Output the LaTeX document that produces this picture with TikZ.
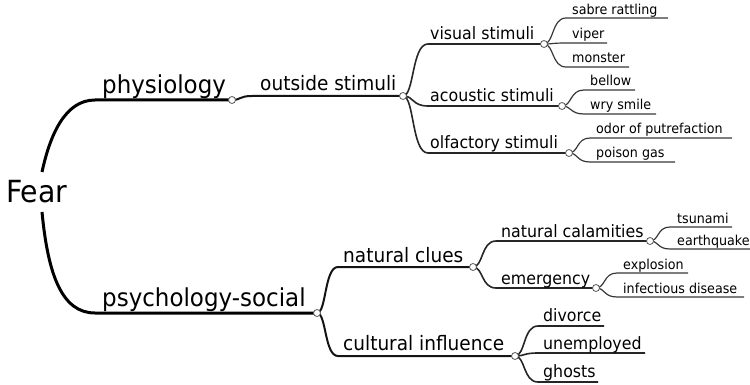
\documentclass[tikz,border=0pt]{standalone}
\usepackage{fontspec}
\setmainfont{DejaVu Sans}[FakeStretch=0.93]
\usetikzlibrary{calc}
\newcommand\mmbranch[4]{\draw[#1] (#2) .. controls ($(#2)!0.45!(#2-|#3)$) and ($(#3-|#2)!0.35!(#3)$) .. (#3) -- (#4);}
\tikzset{
  lone/.style={line width=3pt,black},
  ltwo/.style={line width=2pt,black!92},
  lthree/.style={line width=1.6pt,black!85},
  lfour/.style={line width=1.2pt,black!78},
  knob/.style={circle,draw=black!65,fill=white,line width=0.8pt,inner sep=0pt,minimum size=7pt},
  txt/.style={anchor=base west,inner sep=0pt,text=black},
  tzero/.style={txt,font=\fontsize{30.5}{32}\selectfont},
  tone/.style={txt,font=\fontsize{24.7}{26}\selectfont},
  ttwo/.style={txt,font=\fontsize{19.9}{21}\selectfont},
  tthree/.style={txt,font=\fontsize{17}{18}\selectfont},
  tfour/.style={txt,font=\fontsize{13.65}{15}\selectfont},
}
\begin{document}
\begin{tikzpicture}[x=1pt,y=-1pt]
\useasboundingbox (0,0) rectangle (750,385);
% coordinates
\coordinate (fa) at (42,172);
\coordinate (fb) at (42,212);
\coordinate (aphys) at (95,100);   \coordinate (cphys) at (232,100);
\coordinate (apsy) at (95,313);    \coordinate (cpsy) at (317,313);
\coordinate (aout) at (252,96);    \coordinate (cout) at (403,96);
\coordinate (anat) at (338,267);   \coordinate (cnat) at (473,267);
\coordinate (acul) at (338,356);   \coordinate (ccul) at (515,356);
\coordinate (avis) at (428,44);    \coordinate (cvis) at (544,44);
\coordinate (aaco) at (428,106);   \coordinate (caco) at (562,106);
\coordinate (aolf) at (428,153);   \coordinate (colf) at (569,153);
\coordinate (acal) at (496,241);   \coordinate (ccal) at (650,241);
\coordinate (aeme) at (496,288);   \coordinate (ceme) at (596,288);
\coordinate (adiv) at (538,326);   \coordinate (ediv) at (604,326);
\coordinate (aune) at (538,353);   \coordinate (eune) at (645,353);
\coordinate (agho) at (538,382);   \coordinate (egho) at (598,382);
\coordinate (asab) at (566,18);    \coordinate (esab) at (668,18);
\coordinate (avip) at (566,43);    \coordinate (evip) at (607,43);
\coordinate (amon) at (566,67);    \coordinate (emon) at (629,67);
\coordinate (abel) at (584,90);    \coordinate (ebel) at (635,90);
\coordinate (awry) at (584,114);   \coordinate (ewry) at (656,114);
\coordinate (aodo) at (590,138);   \coordinate (eodo) at (732,138);
\coordinate (apoi) at (590,162);   \coordinate (epoi) at (675,162);
\coordinate (atsu) at (670,227);   \coordinate (etsu) at (732,227);
\coordinate (aear) at (670,249);   \coordinate (eear) at (750,249);
\coordinate (aexp) at (617,273);   \coordinate (eexp) at (688,273);
\coordinate (ainf) at (617,297);   \coordinate (einf) at (744,297);
% level 1
\draw[lone] (fa) .. controls (50,135) and (65,100) .. (aphys) -- (cphys);
\draw[lone] (fb) .. controls (48,275) and (62,313) .. (apsy) -- (cpsy);
% level 2
\mmbranch{ltwo}{cphys}{aout}{cout}
\mmbranch{ltwo}{cpsy}{anat}{cnat}
\mmbranch{ltwo}{cpsy}{acul}{ccul}
% level 3
\mmbranch{lthree}{cout}{avis}{cvis}
\mmbranch{lthree}{cout}{aaco}{caco}
\mmbranch{lthree}{cout}{aolf}{colf}
\mmbranch{lthree}{cnat}{acal}{ccal}
\mmbranch{lthree}{cnat}{aeme}{ceme}
\mmbranch{lthree}{ccul}{adiv}{ediv}
\mmbranch{lthree}{ccul}{aune}{eune}
\mmbranch{lthree}{ccul}{agho}{egho}
% level 4
\mmbranch{lfour}{cvis}{asab}{esab}
\mmbranch{lfour}{cvis}{avip}{evip}
\mmbranch{lfour}{cvis}{amon}{emon}
\mmbranch{lfour}{caco}{abel}{ebel}
\mmbranch{lfour}{caco}{awry}{ewry}
\mmbranch{lfour}{colf}{aodo}{eodo}
\mmbranch{lfour}{colf}{apoi}{epoi}
\mmbranch{lfour}{ccal}{atsu}{etsu}
\mmbranch{lfour}{ccal}{aear}{eear}
\mmbranch{lfour}{ceme}{aexp}{eexp}
\mmbranch{lfour}{ceme}{ainf}{einf}
% knobs
\foreach \k in {cphys,cpsy,cout,cnat,ccul,cvis,caco,colf,ccal,ceme}
  \node[knob] (k\k) at (\k) {};
% texts
\node[tzero] (fear) at (6,203) {Fear};
\node[tone] (tphys) at (102,94) {physiology};
\node[tone] (tpsy) at (102,306) {psychology-social};
\node[ttwo] (tout) at (260,90.5) {outside stimuli};
\node[ttwo] (tnat) at (343,262) {natural clues};
\node[ttwo] (tcul) at (343,350) {cultural influence};
\node[tthree] (tvis) at (430,40) {visual stimuli};
\node[tthree] (taco) at (430,102) {acoustic stimuli};
\node[tthree] (tolf) at (430,149) {olfactory stimuli};
\node[tthree] (tcal) at (501,237) {natural calamities};
\node[tthree] (teme) at (501,284) {emergency};
\node[tthree] (tdiv) at (543,321) {divorce};
\node[tthree] (tune) at (543,349) {unemployed};
\node[tthree] (tgho) at (543,377) {ghosts};
\node[tfour] (tsab) at (572,14.5) {sabre rattling};
\node[tfour] (tvip) at (572,39) {viper};
\node[tfour] (tmon) at (572,63) {monster};
\node[tfour] (tbel) at (590,86) {bellow};
\node[tfour] (twry) at (590,110) {wry smile};
\node[tfour] (todo) at (596,134) {odor of putrefaction};
\node[tfour] (tpoi) at (596,158) {poison gas};
\node[tfour] (ttsu) at (677,223) {tsunami};
\node[tfour] (tear) at (677,245) {earthquake};
\node[tfour] (texp) at (623,269) {explosion};
\node[tfour] (tinf) at (623,293) {infectious disease};
\end{tikzpicture}
\end{document}
